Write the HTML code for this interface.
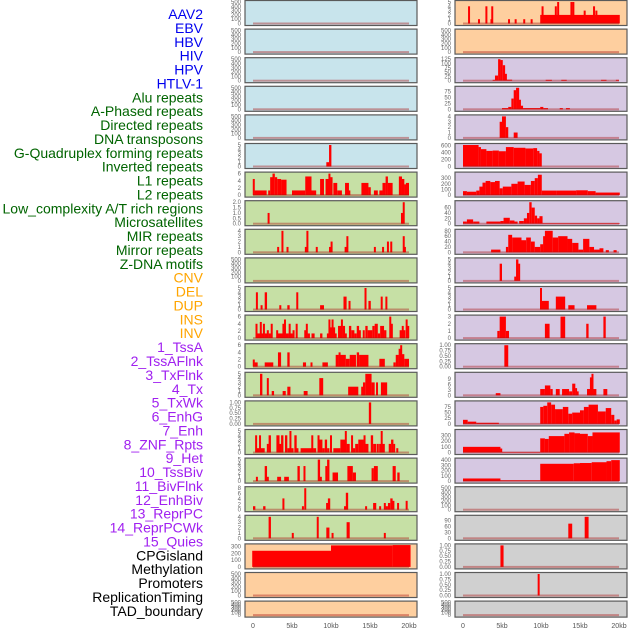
<!DOCTYPE html>
<html><head><meta charset="utf-8"><style>
html,body{margin:0;padding:0;background:#fff;}
svg{display:block;}
</style></head><body>
<svg id="chart" width="630" height="630" xmlns="http://www.w3.org/2000/svg" font-family="Liberation Sans, sans-serif"></svg>
<script>
const trackLabels = ["AAV2","EBV","HBV","HIV","HPV","HTLV-1","Alu repeats","A-Phased repeats","Directed repeats","DNA transposons","G-Quadruplex forming repeats","Inverted repeats","L1 repeats","L2 repeats","Low_complexity A/T rich regions","Microsatellites","MIR repeats","Mirror repeats","Z-DNA motifs","CNV","DEL","DUP","INS","INV","1_TssA","2_TssAFlnk","3_TxFlnk","4_Tx","5_TxWk","6_EnhG","7_Enh","8_ZNF_Rpts","9_Het","10_TssBiv","11_BivFlnk","12_EnhBiv","13_ReprPC","14_ReprPCWk","15_Quies","CPGisland","Methylation","Promoters","ReplicationTiming","TAD_boundary"];
const labelGroups = [6,13,5,15,5];
const xTickValues = [0,5,10,15,20];
const xTickLabels = ["0","5kb","10kb","15kb","20kb"];
const leftMax = [500,500,500,500,500,5,6,2,4,500,5,6,6,5,1,5,5,8,4,320,500,500];
const leftTicks = [[0,100,200,300,400,500],[0,100,200,300,400,500],[0,100,200,300,400,500],[0,100,200,300,400,500],[0,100,200,300,400,500],[0,1,2,3,4,5],[0,2,4,6],[0,0.5,1,1.5,2],[0,1,2,3,4],[0,100,200,300,400,500],[0,1,2,3,4,5],[0,2,4,6],[0,2,4,6],[0,1,2,3,4,5],[0,0.25,0.5,0.75,1],[0,1,2,3,4,5],[0,1,2,3,4,5],[0,2,4,6,8],[0,1,2,3,4],[0,100,200,300],[0,100,200,300,400,500],[0,100,200,300,400,500]];
const rightMax = [5,500,125,90,4,620,380,80,80,5,5,3,1,12,95,380,410,500,110,1,1,500];
const rightTicks = [[0,1,2,3,4,5],[0,100,200,300,400,500],[0,25,50,75,100,125],[0,25,50,75],[0,1,2,3,4],[0,200,400,600],[0,100,200,300],[0,20,40,60],[0,20,40,60,80],[0,1,2,3,4,5],[0,1,2,3,4,5],[0,1,2,3],[0,0.25,0.5,0.75,1],[0,3,6,9],[0,25,50,75],[0,100,200,300],[0,100,200,300,400],[0,100,200,300,400,500],[0,30,60,90],[0,0.25,0.5,0.75,1],[0,0.25,0.5,0.75,1],[0,100,200,300,400,500]];
const leftColors = ["b","b","b","b","b","b","g","g","g","g","g","g","g","g","g","g","g","g","g","p","p","p"];
const rightColors = ["p","p","l","l","l","l","l","l","l","l","l","l","l","l","l","l","l","y","y","y","y","y"];
const leftBars = [[],[],[],[],[],
[[9.4,9.75,1],[9.75,10.05,5]],
[[0,0.2,4.5],[0.2,1.75,1.3],[1.95,2.2,1.3],[2.2,2.5,5],[2.5,2.8,6],[2.8,3.1,5],[3.1,3.6,4.5],[3.6,4.3,4.3],[5.0,6.7,1.3],[6.7,7.5,5.2],[7.5,8.1,1.3],[8.6,9.1,4.5],[9.3,9.7,4.5],[9.7,9.9,6],[9.9,10.2,5],[10.3,10.8,3.4],[10.8,11.4,1.3],[11.8,12.3,3.4],[12.3,12.4,1.3],[13.9,14.8,3.4],[14.8,15.1,2.2],[15.5,16.0,1.3],[16.2,16.6,1.3],[16.6,17.0,3.4],[17.0,17.3,5.2],[17.3,17.9,3.4],[18.7,19.1,5.2],[19.1,19.4,4.5],[19.4,19.6,3],[19.6,20.0,3.4]],
[[1.9,2.1,1],[19.0,19.2,1],[19.2,19.45,2]],
[[3.15,3.3,1],[3.7,3.85,4],[4.35,4.5,1],[6.7,6.85,1],[6.9,7.05,4],[8.1,8.25,1],[9.8,9.95,1],[9.95,10.2,2],[11.8,11.95,1],[12.0,12.2,3],[15.55,15.7,1],[16.6,16.75,1],[17.2,17.4,2],[17.6,17.85,2],[19.25,19.4,3],[19.4,19.55,1]],
[],
[[0.4,0.6,4],[1.0,1.2,1],[1.5,1.8,4],[3.4,3.6,1],[4.4,4.7,1],[5.6,5.75,4],[8.6,9.1,1],[11.6,12.0,3],[12.3,12.45,2],[14.35,14.5,5],[14.8,15.1,2],[16.4,16.6,3],[17.0,17.2,3]],
[[0.4,0.5,4],[0.5,1.0,1.3],[0.9,1.1,4.5],[1.1,1.3,1.3],[1.3,1.5,4],[1.5,1.8,1.3],[1.8,2.0,2.2],[2.0,2.3,1.3],[2.3,2.5,4],[3.0,3.2,2.2],[3.2,3.8,1.3],[3.8,4.0,4],[4.0,4.2,5.2],[4.2,4.6,1.3],[4.6,4.8,4],[4.8,5.1,1.3],[5.1,5.3,2.2],[5.5,5.7,4],[6.6,6.8,2.2],[6.8,7.0,4],[7.0,7.3,1.3],[7.5,7.9,1.3],[8.6,8.9,1.3],[9.5,9.7,1.3],[9.7,9.9,5.2],[9.9,10.1,3],[10.1,10.3,5.2],[10.3,10.5,3],[10.5,10.7,1.3],[10.9,11.3,3.4],[11.3,11.5,5.2],[11.5,11.8,3.4],[11.8,12.0,1.3],[12.3,12.6,3.4],[12.6,13.0,2.2],[13.0,13.3,1.3],[13.3,13.6,3.4],[13.6,13.8,2.2],[14.1,14.3,2.2],[14.4,14.7,3.4],[14.7,15.3,2.2],[15.3,15.6,3.4],[15.6,16.0,4],[16.0,16.3,1.3],[16.3,16.8,3.4],[16.8,17.1,2.2],[17.5,17.7,6],[17.7,17.9,4],[18.8,19.1,2.2],[19.1,19.3,3.4],[19.3,19.5,2.2],[19.6,19.8,5.2],[19.8,20,3.4]],
[[0,0.2,2],[0.2,0.6,1.2],[1.5,2.6,1.2],[3.2,3.6,4],[4.4,4.7,4],[6.4,6.8,1.2],[7.4,7.6,1.2],[8.9,9.6,1.2],[10.6,11.0,3.3],[11.0,11.2,4],[11.2,11.9,3.3],[11.9,12.4,2.2],[12.4,13.2,3.3],[13.3,13.6,4],[13.6,14.8,3.3],[16.2,16.9,2.2],[18.0,18.3,1.2],[18.3,18.7,3.3],[18.7,18.9,5],[18.9,19.1,6],[19.1,19.4,3.5],[19.4,20,2.2]],
[[0.9,1.2,5],[1.8,2.0,4],[2.4,2.7,1],[3.8,4.2,1],[4.4,4.8,2],[6.5,7.0,1],[8.5,9.0,4],[12.2,13.5,2],[13.9,14.1,2],[14.1,14.4,3],[14.4,15.2,5],[15.2,15.6,3],[15.8,16.0,3],[16.4,17.2,3]],
[[14.85,15.15,1]],
[[0.3,0.5,4],[0.5,0.8,1],[0.8,1.0,4],[1.0,1.5,1],[1.8,2.0,2],[2.0,2.3,4],[3.0,3.4,4],[3.4,3.6,2],[3.6,3.9,4],[4.1,4.4,4],[4.4,4.7,1],[4.7,4.9,5],[4.9,5.2,1],[5.3,5.6,4],[5.6,5.8,1],[6.1,7.5,1],[7.5,7.7,4],[7.7,8.1,1],[8.3,8.5,4],[8.5,8.9,3],[8.9,9.2,1],[9.2,9.5,3],[9.5,9.8,1],[9.9,10.1,4],[10.3,11.2,1],[11.2,11.8,3],[11.8,12.0,5],[12.0,12.4,2],[12.6,12.8,4],[12.8,13.1,1],[13.1,13.5,2],[13.5,14.2,3],[14.2,14.4,4],[14.4,14.8,2],[15.1,15.4,4],[15.4,15.8,2],[15.9,16.1,2],[16.2,16.4,2],[16.4,16.6,5],[16.6,16.9,2],[17.4,17.7,2],[17.7,18.0,3],[18.0,18.2,2],[18.4,18.6,1]],
[[0.4,0.6,1],[1.5,1.8,3.5],[1.8,2.0,1],[3.1,3.6,1],[4.0,4.6,1],[5.7,6.0,3.5],[6.5,6.7,3.5],[8.3,8.6,5],[8.6,8.8,1],[9.3,9.5,3.5],[9.5,9.8,5],[10.2,10.9,2],[12.1,12.8,3.5],[12.8,13.2,2],[15.2,15.5,3],[15.5,16.0,3.5],[17.9,18.3,3.5],[18.5,18.8,2]],
[[0,0.3,1.3],[1.3,1.6,1.3],[3.8,4.0,4.2],[6.3,6.5,1.3],[6.6,6.8,8],[9.4,9.6,2.5],[9.6,9.9,4.2],[11.7,11.9,1.3],[11.9,12.2,6.3],[14.4,14.6,1.3],[15.4,15.8,2.5],[16.2,16.4,1.3],[16.8,17.0,2.5],[17.0,17.3,1.3],[17.3,17.6,2.5],[17.6,17.9,4.2],[17.9,18.1,3.3],[18.5,18.7,2.5],[19.6,19.8,3.3]],
[[2.0,2.3,4],[5.0,5.2,1],[8.2,8.4,4],[9.4,9.8,2],[10.1,10.3,1],[12.0,12.4,3],[16.8,17.0,1]],
[[-0.1,10,240],[10,17.9,320],[17.9,20.2,325]],
[],[]];
const rightBars = [
[[0.7,0.85,4],[2.0,2.1,1],[2.95,3.05,4],[3.6,3.7,1],[3.7,3.8,4],[5.85,5.95,1],[6.7,6.8,1],[7.8,7.9,1],[8.75,8.85,1],[9.9,20.1,2],[10.15,10.25,4],[11.85,11.95,4],[12.15,12.25,5],[13.85,13.95,5],[14.1,14.2,5],[15.5,15.7,3],[16.75,16.85,4],[17.05,17.15,3]],
[],
[[3.8,4.1,5],[4.1,4.5,30],[4.5,4.8,125],[4.8,5.1,120],[5.1,5.4,90],[5.4,5.6,40],[5.6,6.3,6],[10.6,11.4,5],[12.6,13.3,5],[17.7,18.4,5],[19.6,20.0,5]],
[[5.0,5.8,5],[5.8,6.2,10],[6.2,6.5,45],[6.5,6.8,80],[6.8,7.2,90],[7.2,7.4,40],[7.4,7.7,15],[7.7,9.9,5],[9.9,10.3,10],[10.3,10.9,5],[12.4,12.8,5],[13.2,13.7,5]],
[[4.7,5.0,3],[5.0,5.5,4],[5.5,5.8,2],[6.5,7.0,1]],
[[0,2,620],[2,2.3,560],[2.3,3,500],[3,3.8,450],[3.8,4.6,460],[4.6,5.5,440],[5.5,6.5,560],[6.5,8,540],[8,9,520],[9,9.5,530],[9.5,9.8,450],[9.8,10.1,380]],
[[0,0.5,70],[0.5,1.7,60],[1.7,2.1,80],[2.1,2.5,150],[2.5,2.9,220],[2.9,3.5,250],[3.5,4.1,230],[4.1,4.7,250],[4.7,5.1,120],[5.1,6.2,150],[6.2,7,200],[7,7.9,240],[7.9,8.7,180],[8.7,9.2,250],[9.2,9.6,300],[9.6,10.1,360],[10.1,12,80],[12,14.5,80],[14.5,16,85],[16,17,70],[17,20.1,45]],
[[0,0.5,8],[0.5,1.3,16],[1.3,2.1,8],[3.0,4.8,8],[4.8,5.2,10],[5.2,6.0,22],[6.0,6.6,12],[6.6,7.0,8],[7.2,7.8,10],[7.8,8.2,20],[8.2,8.5,40],[8.5,8.8,80],[8.8,9.2,60],[9.2,9.5,30],[9.5,9.8,20],[9.8,10.2,28],[10.2,20.1,2]],
[[3.6,4.8,10],[5.5,5.8,20],[5.8,6.3,65],[6.3,7.5,55],[7.5,8.1,45],[8.1,8.7,55],[8.7,9.2,40],[9.2,9.9,20],[9.9,10.3,30],[10.3,10.5,60],[10.5,11.5,80],[11.5,12.2,55],[12.2,13.4,60],[13.4,14.0,50],[14.0,14.8,35],[14.8,15.4,10],[15.4,16.2,50],[16.2,16.8,20],[16.8,17.5,10],[17.5,18.0,15],[18.3,18.7,8],[19.3,19.7,8]],
[[4.7,5.0,4],[6.6,6.8,1],[6.8,7.1,5],[7.1,7.3,4]],
[[9.9,10.1,5],[10.1,11.0,2],[11.9,13.1,3],[13.5,14.3,1],[15.9,17.1,1]],
[[4.4,4.7,1],[4.7,5.5,3],[5.5,5.9,1],[10.5,11.1,2],[12.5,13.1,3],[15.8,16.1,2],[18.0,18.3,3]],
[[5.3,5.8,1]],
[[4.2,4.8,1.2],[9.9,10.5,3.5],[10.5,11.2,5.5],[11.2,11.5,3.5],[11.9,12.4,3.5],[12.7,13.6,3.5],[13.6,14.0,2.2],[14.0,14.4,6.5],[14.4,14.6,4],[14.6,14.8,2.2],[15.9,16.3,3.5],[16.3,16.5,10],[16.5,16.7,12],[16.7,17.1,3.5],[18.0,18.5,3.5]],
[[0,0.6,18],[0.6,1.7,10],[1.7,4.6,5],[9.9,10.3,75],[10.3,10.8,80],[10.8,11.3,95],[11.3,11.8,85],[11.8,12.8,65],[12.8,13.5,75],[13.5,14.0,45],[14.0,15.0,50],[15.0,15.5,60],[15.5,16.1,75],[16.1,17.3,85],[17.3,18.3,55],[18.3,19.0,70],[19.0,19.4,40],[19.4,19.7,15],[19.7,20.1,20]],
[[0,4.8,100],[4.8,5.0,70],[5.0,9.9,10],[9.9,10.5,250],[10.5,11.0,240],[11.0,13.0,290],[13.0,13.6,330],[13.6,14.3,355],[14.3,15.0,340],[15.0,16.0,330],[16.0,16.6,290],[16.6,20.1,355]],
[[0,4.8,50],[4.8,9.9,15],[9.9,14.2,330],[14.2,15.0,340],[15.0,16.5,345],[16.5,18.4,360],[18.4,19.0,380],[19.0,20.1,400]],
[],
[[13.5,14.0,75],[15.6,16.1,110]],
[[4.8,5.2,1]],
[[9.6,9.8,1]],
[]];

const NS = "http://www.w3.org/2000/svg";
const svg = document.getElementById("chart");
const bgColor = {b:"#c8e4ec",g:"#c6e0a5",p:"#fecf9f",l:"#d6c8e2",y:"#d0d0d0"};
const groupColor = ["#0000ee","#006400","#ffa500","#a020f0","#000000"];
function mk(tag, attrs){ const e=document.createElementNS(NS,tag); for(const k in attrs) e.setAttribute(k,attrs[k]); return e; }
function rowTop(i){ return 0.5 + i*28.6; }
function rowH(i){ return i===21 ? 16 : 25; }
function xScale(side, kb){ return (side===0?253:463) + kb*7.8; }
function fmt(v, ticks){
  if (ticks.some(t=>Math.abs(t*4-Math.round(t*4))<1e-9 && t%0.5!==0)) return v.toFixed(2);
  if (ticks.some(t=>t%1!==0)) return v.toFixed(1);
  return String(v);
}

let li=0;
labelGroups.forEach((n,g)=>{ for(let k=0;k<n;k++){ const t=mk("text",{x:203,y:14+li*13.88+5,"text-anchor":"end","font-size":"14",fill:groupColor[g]}); t.textContent=trackLabels[li];
 
 
 svg.appendChild(t); li++; } });

[0,1].forEach(side=>{
  const maxes = side===0?leftMax:rightMax, ticks = side===0?leftTicks:rightTicks, bars = side===0?leftBars:rightBars, cols = side===0?leftColors:rightColors;
  const bx = side===0?245:455;
  for(let i=0;i<22;i++){
    const top=rowTop(i), h=rowH(i);
    const g=mk("g",{});
    
    
    svg.appendChild(g);
    const r=mk("rect",{x:bx,y:top,width:172,height:h,fill:bgColor[cols[i]],stroke:"#5a5a5a","stroke-width":"1.2"});
    
    
    g.appendChild(r);
    const y0 = top+h-2, y1 = top+1.5;
    const ys = v => y0 - (v/maxes[i])*(y0-y1);
    bars[i].forEach(b=>{
      const x0=xScale(side,b[0]), x1=xScale(side,b[1]);
      const w=Math.max(2,x1-x0);
      const rc=mk("rect",{x:x0-(w-(x1-x0))/2,y:ys(b[2]),width:w,height:y0-ys(b[2]),fill:"#ff0000"});
      
      
      g.appendChild(rc);
    });
    const base=mk("rect",{x:xScale(side,0),y:y0-1,width:xScale(side,20)-xScale(side,0),height:2,fill:"rgba(170,20,20,0.4)"});
    
    
    g.appendChild(base);
    ticks[i].forEach(t=>{
      const tx=mk("text",{x:bx-4,y:ys(t)+2,"text-anchor":"end","font-size":"6",fill:"#666"});
      tx.textContent=fmt(t,ticks[i]);
      
      
      g.appendChild(tx);
    });
  }
  xTickValues.forEach((v,k)=>{
    const t=mk("text",{x:xScale(side,v),y:628,"text-anchor":"middle","font-size":"7",fill:"#555"});
    t.textContent=xTickLabels[k];
    
    
    svg.appendChild(t);
  });
});
</script>
</body></html>
